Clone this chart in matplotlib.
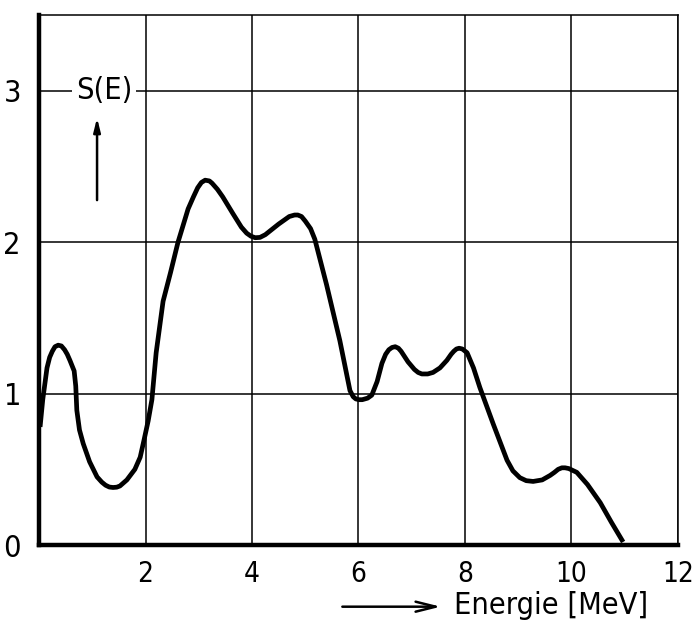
import matplotlib
matplotlib.use("Agg")
import matplotlib.pyplot as plt
from matplotlib.patches import FancyArrowPatch

plt.rcParams['font.family'] = ['DejaVu Sans']
plt.rcParams['font.stretch'] = 'condensed'

# stopping power curve S(E), read point by point
energy = [0.02, 0.07, 0.15, 0.2, 0.25, 0.3, 0.36, 0.42, 0.48, 0.53, 0.58, 0.66, 0.69, 0.71,
          0.76, 0.83, 0.95, 1.09, 1.18, 1.25, 1.32, 1.39, 1.46, 1.52, 1.65, 1.8, 1.9,
          1.97, 2.05, 2.12, 2.2, 2.33, 2.47, 2.61, 2.8, 2.9, 2.98, 3.05, 3.12, 3.2,
          3.25, 3.35, 3.45, 3.64, 3.8, 3.9, 3.98, 4.06, 4.15, 4.25, 4.5, 4.62, 4.7,
          4.8, 4.86, 4.93, 5.0, 5.1, 5.18, 5.4, 5.65, 5.84, 5.9, 5.95, 6.01, 6.07,
          6.12, 6.17, 6.25, 6.35, 6.44, 6.51, 6.57, 6.63, 6.69, 6.75, 6.8, 6.93, 7.05,
          7.12, 7.19, 7.3, 7.4, 7.53, 7.66, 7.74, 7.79, 7.84, 7.89, 7.95, 8.04, 8.16,
          8.28, 8.53, 8.79, 8.9, 9.03, 9.15, 9.28, 9.45, 9.6, 9.68, 9.75, 9.82, 9.88,
          9.95, 10.1, 10.3, 10.54, 10.75, 10.97]
stopping = [0.78, 0.96, 1.17, 1.24, 1.28, 1.31, 1.32, 1.315, 1.29, 1.26, 1.22, 1.15, 1.05,
            0.89, 0.76, 0.67, 0.55, 0.45, 0.415, 0.395, 0.383, 0.38, 0.382, 0.39, 0.43,
            0.5, 0.58, 0.69, 0.82, 0.96, 1.27, 1.61, 1.8, 2.0, 2.22, 2.3, 2.36, 2.395,
            2.41, 2.405, 2.39, 2.35, 2.3, 2.19, 2.1, 2.06, 2.04, 2.03, 2.032, 2.05,
            2.12, 2.15, 2.17, 2.18, 2.18, 2.17, 2.14, 2.09, 2.02, 1.72, 1.35, 1.02,
            0.98, 0.965, 0.96, 0.96, 0.965, 0.97, 0.99, 1.08, 1.2, 1.26, 1.29, 1.305,
            1.31, 1.3, 1.28, 1.21, 1.16, 1.14, 1.13, 1.13, 1.14, 1.17, 1.22, 1.26,
            1.28, 1.295, 1.3, 1.295, 1.27, 1.17, 1.04, 0.8, 0.56, 0.49, 0.445, 0.425,
            0.42, 0.43, 0.46, 0.48, 0.5, 0.51, 0.51, 0.505, 0.48, 0.4, 0.28, 0.15, 0.02]

xticks = [2, 4, 6, 8, 10, 12]
yticks = [0, 1, 2, 3]

fig = plt.figure(figsize=(6.93, 6.30), dpi=100)
ax = fig.add_axes([0.0563, 0.1349, 0.922, 0.841])

ax.plot(energy, stopping, color='black', lw=3.4, solid_capstyle='butt',
        solid_joinstyle='round', zorder=3)

ax.set_xlim(0, 12)
ax.set_ylim(0, 3.5)
ax.set_xticks(xticks)
ax.set_yticks(yticks)
ax.set_xticklabels([str(t) for t in xticks], fontsize=20)
ax.set_yticklabels([str(t) for t in yticks], fontsize=22)
ax.tick_params(axis='both', length=0)
ax.tick_params(axis='x', pad=11)
ax.tick_params(axis='y', pad=13)
ax.grid(True, color='black', lw=1.1)

ax.spines['left'].set_linewidth(3.2)
ax.spines['bottom'].set_linewidth(3.2)
ax.spines['top'].set_linewidth(1.1)
ax.spines['right'].set_linewidth(1.1)

# y-axis label with its arrow inside the plot
ax.text(1.22, 3.0, 'S(E)', fontsize=22, ha='center', va='center', zorder=4,
        bbox=dict(facecolor='white', edgecolor='none', pad=3))
ax.annotate('', xy=(1.09, 2.84), xytext=(1.09, 2.26),
            arrowprops=dict(arrowstyle='-|>,head_length=0.8,head_width=0.2',
                            color='black', lw=1.8))

# x-axis label with leading arrow
fig.text(0.655, 0.039, 'Energie [MeV]', fontsize=22, ha='left', va='center')
fig.patches.append(FancyArrowPatch(
    (0.49, 0.037), (0.64, 0.037), transform=fig.transFigure,
    arrowstyle='->,head_length=1.2,head_width=0.3', color='black', lw=1.8,
    mutation_scale=12))

fig.savefig('out.png', dpi=100)
